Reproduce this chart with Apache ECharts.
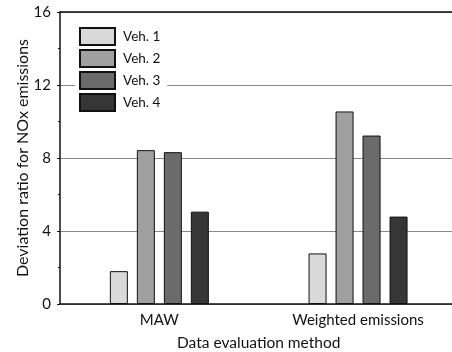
<!DOCTYPE html>
<html>
<head>
<meta charset="utf-8">
<script src="https://cdn.jsdelivr.net/npm/echarts@6/dist/echarts.min.js"></script>
<style>html,body{margin:0;padding:0;background:#fff;}#c{width:452px;height:352px;}</style>
</head>
<body>
<div id="c"></div>
<script>
var categories = ['MAW', 'Weighted emissions'];
var seriesNames = ['Veh. 1', 'Veh. 2', 'Veh. 3', 'Veh. 4'];
var veh1 = [1.80, 2.77];
var veh2 = [8.43, 10.55];
var veh3 = [8.32, 9.23];
var veh4 = [5.06, 4.79];
var colors = ['#d9d9d9', '#a0a0a0', '#6b6b6b', '#363636'];
var yTicks = [0, 4, 8, 12, 16];

var font = 'Lato, "Open Sans", "Noto Sans", sans-serif';
var values = [veh1, veh2, veh3, veh4];
var chart = echarts.init(document.getElementById('c'), null, {renderer: 'canvas'});
var series = seriesNames.map(function (n, i) {
  return {
    name: n, type: 'bar', data: values[i], barWidth: 18, barGap: '50%',
    xAxisIndex: 0,
    itemStyle: {color: colors[i], borderColor: '#111', borderWidth: 1}
  };
});
chart.setOption({
  animation: false,
  textStyle: {fontFamily: font},
  grid: {left: 60, top: 12, bottom: 48, width: 397.4, containLabel: false, outerBoundsMode: 'none'},
  legend: {
    orient: 'vertical', left: 75, top: 25, itemWidth: 35, itemHeight: 17, itemGap: 3,
    padding: [2, 7, 2, 4], backgroundColor: '#fff',
    data: seriesNames,
    textStyle: {fontSize: 13.5, color: '#111', fontFamily: font, padding: [0, 0, 0, 3]},
    icon: 'rect'
  },
  xAxis: [{
    type: 'category', data: categories, position: 'bottom',
    axisLine: {lineStyle: {color: '#111', width: 1.5}},
    axisTick: {inside: true, length: 3, lineStyle: {color: '#111'}},
    axisLabel: {fontSize: 15, color: '#111', margin: 9, fontFamily: font},
    name: 'Data evaluation method', nameLocation: 'middle', nameGap: 31,
    nameTextStyle: {fontSize: 15.5, color: '#111', fontFamily: font}
  }, {
    type: 'category', data: categories, position: 'top',
    axisLine: {show: true, lineStyle: {color: '#111', width: 1.5}},
    axisTick: {show: false}, axisLabel: {show: false}
  }],
  yAxis: {
    type: 'value', min: yTicks[0], max: yTicks[yTicks.length - 1], interval: 4,
    axisLine: {show: true, lineStyle: {color: '#111', width: 1.5}},
    axisTick: {show: true, inside: false, length: 3, lineStyle: {color: '#111'}},
    minorTick: {show: true, splitNumber: 2, length: 2, lineStyle: {color: '#111'}},
    splitLine: {show: true, lineStyle: {color: '#888', width: 1}},
    axisLabel: {fontSize: 15, color: '#111', margin: 9, fontFamily: font},
    name: 'Deviation ratio for NOx emissions', nameLocation: 'middle', nameGap: 29,
    nameMoveOverlap: false,
    nameTextStyle: {fontSize: 16, color: '#111', fontFamily: font}
  },
  series: series
});
</script>
</body>
</html>
